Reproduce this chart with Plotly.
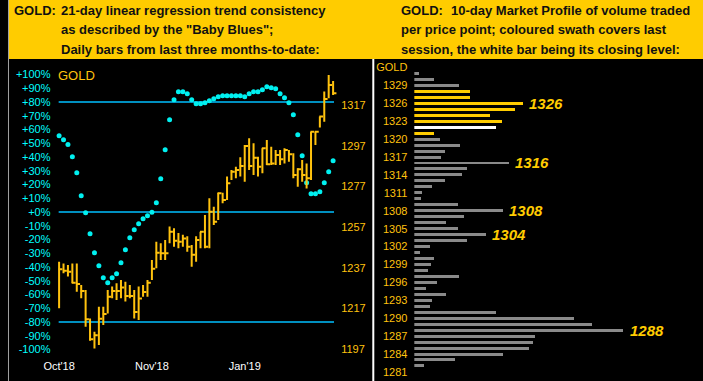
import plotly.graph_objects as go

W, H = 703, 381

# ---------------- Left panel data ----------------
month_labels = ["Oct'18", "Nov'18", "Jan'19"]
month_label_bars = [0, 21, 42]

trend_pct = [55.5, 52.6, 49.0, 40.2, 28.6, 11.9, -0.5, -15.8, -29.6, -39.0,
             -47.8, -51.4, -47.8, -44.9, -36.9, -27.4, -18.7, -12.9, -8.5, -4.9,
             -2.7, -0.2, 6.8, 24.2, 45.3, 67.1, 81.7, 87.5, 87.5, 86.0,
             81.7, 78.8, 78.8, 79.5, 80.9, 82.4, 83.9, 84.6, 84.6, 84.6,
             84.6, 84.6, 83.9, 86.0, 87.5, 87.5, 88.9, 91.1, 90.4, 89.7,
             86.0, 83.1, 79.5, 70.8, 56.2, 40.9, 21.3, 13.3, 13.3, 14.8,
             21.3, 29.3, 37.3]

bar_high = [1239.9, 1239.1, 1238.3, 1239.1, 1239.1, 1228.5, 1226.0, 1212.0, 1205.5, 1217.8,
            1217.8, 1226.0, 1227.7, 1229.3, 1230.9, 1230.1, 1228.5, 1226.0, 1227.7, 1228.5,
            1230.9, 1240.8, 1249.8, 1249.0, 1250.6, 1257.2, 1256.4, 1254.0, 1253.2, 1252.4,
            1248.2, 1252.4, 1254.7, 1262.9, 1271.1, 1267.0, 1273.9, 1273.9, 1281.8, 1285.0,
            1286.7, 1291.3, 1297.3, 1300.6, 1298.2, 1291.6, 1295.7, 1299.8, 1296.5, 1294.9,
            1294.9, 1295.7, 1294.9, 1293.3, 1285.9, 1290.0, 1288.3, 1303.9, 1303.9, 1311.3,
            1323.6, 1331.8, 1328.8]
bar_low = [1217.0, 1234.2, 1232.6, 1229.3, 1225.2, 1221.9, 1208.0, 1201.0, 1197.3, 1199.0,
           1208.8, 1214.5, 1221.9, 1221.1, 1221.9, 1220.3, 1221.9, 1212.0, 1211.3, 1222.7,
           1222.7, 1230.9, 1236.7, 1240.8, 1240.8, 1249.0, 1247.3, 1246.5, 1247.3, 1244.8,
           1237.5, 1239.9, 1246.5, 1246.5, 1246.5, 1258.0, 1260.5, 1268.7, 1270.3, 1280.1,
           1281.0, 1281.8, 1279.3, 1285.0, 1282.6, 1281.8, 1283.4, 1287.5, 1287.5, 1287.5,
           1287.5, 1288.3, 1289.1, 1281.0, 1276.8, 1279.3, 1276.0, 1280.1, 1297.3, 1306.0,
           1308.8, 1320.3, 1321.9]
bar_close = [1236.2, 1235.5, 1235.0, 1229.6, 1229.0, 1225.5, 1211.6, 1201.8, 1203.7, 1211.9,
             1214.2, 1222.7, 1225.5, 1225.5, 1227.3, 1223.1, 1223.1, 1215.2, 1221.8, 1225.0,
             1229.6, 1236.5, 1244.4, 1244.1, 1244.1, 1254.7, 1250.3, 1249.8, 1251.4, 1247.3,
             1243.3, 1250.6, 1254.7, 1247.3, 1264.5, 1259.6, 1273.6, 1270.3, 1278.5, 1284.2,
             1285.0, 1287.0, 1296.9, 1287.0, 1291.1, 1286.7, 1295.7, 1287.9, 1288.3, 1292.4,
             1290.3, 1294.9, 1292.8, 1282.6, 1285.4, 1282.6, 1281.0, 1303.9, 1303.9, 1311.3,
             1320.0, 1326.9, 1322.8]

pct_levels = [80, 0, -80]
pct_ticks = list(range(-100, 101, 10))
pct_ticktext = [("+%d%%" % v) if v >= 0 else ("%d%%" % v) for v in pct_ticks]
price_ticks_left = [1197, 1217, 1237, 1257, 1277, 1297, 1317]

# ---------------- Right panel data ----------------
profile_prices = list(range(1331, 1281, -1))
profile_volume = [4.7, 20.7, 45.7, 56.7, 56.7, 110.0, 101.7, 76.7, 88.7, 82.7,
                  20.7, 26.7, 46.7, 31.7, 27.7, 95.7, 53.7, 48.7, 31.7, 17.7,
                  7.7, 6.7, 44.7, 89.7, 50.7, 32.7, 44.0, 72.7, 53.7, 15.7,
                  5.7, 20.7, 16.7, 13.7, 45.7, 23.7, 11.7, 32.7, 18.7, 15.7,
                  82.7, 161.7, 179.7, 211.7, 122.7, 120.7, 116.7, 89.7, 41.7, 9.7]
session_low, session_high, session_close = 1321, 1328, 1322
callout_prices = [1326, 1316, 1308, 1304, 1288]
profile_ticks = list(range(1281, 1333, 3))
profile_ticktext = [str(v) if v != 1332 else "GOLD" for v in profile_ticks]

# ---------------- Styling ----------------
GOLD = "#FFC20E"
YELLOW = "#FFCC00"
CYAN_DOT = "#00F0F0"
CYAN_LINE = "#00BFFF"
CYAN_TXT = "#00FFFF"
GRAY = "#8A8A8A"
FONT = "Liberation Sans"


def px(x):
    return x / W


def py(y):
    return 1 - y / H


fig = go.Figure()

# HLC bars built from the data arrays
n = len(bar_close)
bx, by = [], []
for i in range(n):
    bx += [i, i, None, i - 0.12, i + 0.75, None]
    by += [bar_low[i], bar_high[i], None, bar_close[i], bar_close[i], None]
fig.add_trace(go.Scatter(x=bx, y=by, mode="lines", xaxis="x", yaxis="y2",
                         line=dict(color=GOLD, width=2), hoverinfo="skip",
                         showlegend=False))

# Baby Blues dots
fig.add_trace(go.Scatter(x=list(range(n)), y=trend_pct, mode="markers",
                         xaxis="x", yaxis="y",
                         marker=dict(color=CYAN_DOT, size=5, symbol="circle"),
                         showlegend=False))

# Market profile bars
colors = []
for p in profile_prices:
    if p == session_close:
        colors.append("#FFFFFF")
    elif session_low <= p <= session_high:
        colors.append(YELLOW)
    else:
        colors.append(GRAY)
fig.add_trace(go.Bar(x=profile_volume, y=profile_prices, orientation="h",
                     xaxis="x3", yaxis="y3", width=0.5,
                     marker=dict(color=colors, line=dict(width=0)),
                     showlegend=False))

shapes = []
# header band
shapes.append(dict(type="rect", xref="paper", yref="paper", x0=0, x1=1,
                   y0=py(59), y1=1, fillcolor=YELLOW, line=dict(width=0),
                   layer="above"))
# left gray border
shapes.append(dict(type="line", xref="paper", yref="paper", x0=px(0.5), x1=px(0.5),
                   y0=0, y1=1, line=dict(color="#A0A0A0", width=1), layer="above"))
# divider
shapes.append(dict(type="line", xref="paper", yref="paper", x0=px(369.5), x1=px(369.5),
                   y0=0, y1=py(59), line=dict(color="#FFFFFF", width=2), layer="above"))
# reference levels
for lv in pct_levels:
    shapes.append(dict(type="line", xref="x", yref="y", x0=-0.1, x1=n - 0.8,
                       y0=lv, y1=lv, line=dict(color=CYAN_LINE, width=1.5),
                       layer="below"))

annotations = []
hdr_font = dict(family=FONT, size=13, color="#111111", weight="bold")
hdr = [
    (4, 10.5, "GOLD:"),
    (52, 10.5, "21-day linear regression trend consistency"),
    (52, 30, "as described by the \"Baby Blues\";"),
    (52, 49.5, "Daily bars from last three months-to-date:"),
    (396, 10.5, "GOLD:"),
    (446, 10.5, "10-day Market Profile of volume traded"),
    (396, 30, "per price point; coloured swath covers last"),
    (396, 49.5, "session, the white bar being its closing level:"),
]
for x, y, t in hdr:
    annotations.append(dict(xref="paper", yref="paper", x=px(x), y=py(y), text=t,
                            showarrow=False, xanchor="left", yanchor="middle",
                            font=hdr_font))
annotations.append(dict(xref="paper", yref="paper", x=px(49), y=py(75), text="GOLD",
                        showarrow=False, xanchor="left", yanchor="middle",
                        font=dict(family=FONT, size=13, color=GOLD)))
for cp in callout_prices:
    v = profile_volume[profile_prices.index(cp)]
    annotations.append(dict(xref="x3", yref="y3", x=v, y=cp, text=str(cp),
                            showarrow=False, xanchor="left", yanchor="middle",
                            xshift=4,
                            font=dict(family=FONT, size=15, color=YELLOW,
                                      weight="bold", style="italic")))

fig.update_layout(
    width=W, height=H, margin=dict(l=0, r=0, t=0, b=0),
    paper_bgcolor="#000000", plot_bgcolor="#000000",
    showlegend=False, bargap=0,
    shapes=shapes, annotations=annotations,
    xaxis=dict(domain=[px(44), px(369)], range=[-1.72, 70.98], anchor="y",
               tickvals=month_label_bars, ticktext=month_labels,
               tickfont=dict(family=FONT, size=11, color="#FFFFFF"),
               showgrid=False, zeroline=False, showline=False, ticks=""),
    yaxis=dict(domain=[py(358), py(59)], range=[-106.18, 111.27], anchor="x",
               tickvals=pct_ticks, ticktext=pct_ticktext,
               tickfont=dict(family=FONT, size=11, color=CYAN_TXT),
               showgrid=False, zeroline=False, showline=False, ticks=""),
    yaxis2=dict(overlaying="y", anchor="free", position=px(336), side="right",
                range=[1192.57, 1339.64], tickvals=price_ticks_left,
                tickfont=dict(family=FONT, size=11, color=GOLD),
                showgrid=False, zeroline=False, showline=False, ticks=""),
    xaxis3=dict(domain=[px(411), 1], range=[0, 292], anchor="y3", visible=False),
    yaxis3=dict(domain=[0, py(59)], range=[1279.48, 1333.42], anchor="free",
                position=px(404), side="left",
                tickvals=profile_ticks, ticktext=profile_ticktext,
                tickfont=dict(family=FONT, size=11, color=GOLD),
                showgrid=False, zeroline=False, showline=False, ticks=""),
)

fig.write_html("out.html",
               config={"displayModeBar": False},
               post_script="document.body.style.margin='0';"
                           "document.body.style.background='#000';")
